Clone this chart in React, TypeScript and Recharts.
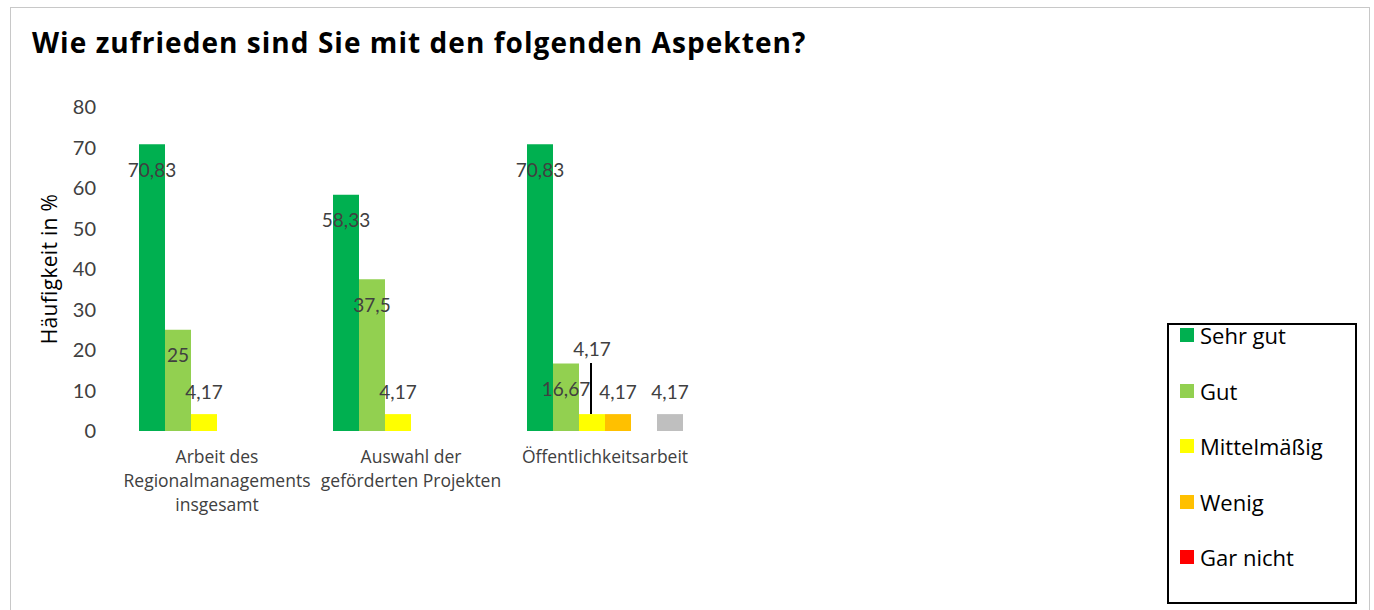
import { BarChart, Bar, XAxis, YAxis, LabelList } from 'recharts';

const categories = [
  'Arbeit des\nRegionalmanagements\ninsgesamt',
  'Auswahl der\ngeförderten Projekten',
  'Öffentlichkeitsarbeit',
];
const sehrGut = [70.83, 58.33, 70.83];
const gut = [25, 37.5, 16.67];
const mittelmaessig = [4.17, 4.17, 4.17];
const wenig = [null, null, 4.17];
const garNicht = [null, null, null];
const keineAngabe = [null, null, 4.17];
const yTicks = [0, 10, 20, 30, 40, 50, 60, 70, 80];

const series = [
  { key: 'sehrGut', name: 'Sehr gut', color: '#00B050', values: sehrGut, legend: true },
  { key: 'gut', name: 'Gut', color: '#92D050', values: gut, legend: true },
  { key: 'mittel', name: 'Mittelmäßig', color: '#FFFF00', values: mittelmaessig, legend: true },
  { key: 'wenig', name: 'Wenig', color: '#FFC000', values: wenig, legend: true },
  { key: 'garNicht', name: 'Gar nicht', color: '#FF0000', values: garNicht, legend: true },
  { key: 'keineAngabe', name: 'Keine Angabe', color: '#BFBFBF', values: keineAngabe, legend: false },
];

const data = categories.map((name, i) => {
  const row: Record<string, any> = { name };
  series.forEach((s) => {
    row[s.key] = s.values[i];
  });
  return row;
});

const FONT = 'Lato, "Open Sans", sans-serif';
const WIDE = '"Open Sans", Lato, sans-serif';

const fmt = (v: number) => String(v).replace('.', ',');

const makeLabel = (seriesKey: string) => (props: any) => {
  const { x, y, width, value, index } = props;
  if (value == null) return null;
  const cx = Number(x) + Number(width) / 2;
  const top = Number(y);
  // the yellow bar of the last group has its label pulled up with a leader line
  const leader = seriesKey === 'mittel' && index === 2;
  const ty = leader ? top - 66 : value > 10 ? top + 25 : top - 23;
  return (
    <g>
      {leader && <line x1={cx - 1} x2={cx - 1} y1={top - 51} y2={top} stroke="#000" strokeWidth={2} />}
      <text x={cx} y={ty} textAnchor="middle" dominantBaseline="central" fontSize={19} fontFamily={FONT} fill="#404040">
        {fmt(value)}
      </text>
    </g>
  );
};

const CategoryTick = (props: any) => {
  const { x, y, payload } = props;
  const lines = String(payload.value).split('\n');
  return (
    <text x={x} y={y} textAnchor="middle" fontSize={17.5} fontFamily={WIDE} fill="#404040">
      {lines.map((l, i) => (
        <tspan key={i} x={x} dy={i === 0 ? 32 : 24}>
          {l}
        </tspan>
      ))}
    </text>
  );
};

const YLabel = (props: any) => {
  const vb = props.viewBox || { x: 60, y: 107, height: 324 };
  const cx = vb.x - 11;
  const cy = vb.y + vb.height / 2;
  return (
    <text
      x={cx}
      y={cy}
      transform={`rotate(-90 ${cx} ${cy})`}
      textAnchor="middle"
      dominantBaseline="central"
      fontSize={21}
      letterSpacing={0.3}
      fontFamily={WIDE}
      fill="#000"
    >
      Häufigkeit in %
    </text>
  );
};

export default function App() {
  return (
    <div style={{ position: 'relative', width: 1374, height: 610, background: '#fff', overflow: 'hidden', fontFamily: FONT }}>
      <style>{`body{margin:0}`}</style>
      <div style={{ position: 'absolute', left: 10, top: 7, width: 1358, height: 620, border: '1px solid #c8c8c8' }} />
      <div
        style={{
          position: 'absolute',
          left: 32,
          top: 24,
          height: 36,
          lineHeight: '36px',
          fontSize: 28,
          fontWeight: 700,
          letterSpacing: 1.05,
          fontFamily: WIDE,
          color: '#000',
          whiteSpace: 'nowrap',
        }}
      >
        Wie zufrieden sind Sie mit den folgenden Aspekten?
      </div>
      <div style={{ position: 'absolute', left: 0, top: 0 }}>
        <BarChart
          width={1374}
          height={610}
          data={data}
          margin={{ top: 107, left: 60, right: 672, bottom: 149 }}
          barCategoryGap={19}
          barGap={0}
        >
          <XAxis dataKey="name" height={30} axisLine={false} tickLine={false} tickSize={0} tickMargin={0} interval={0} tick={<CategoryTick />} />
          <YAxis
            width={60}
            domain={[0, 80]}
            ticks={yTicks}
            axisLine={false}
            tickLine={false}
            tickSize={0}
            tickMargin={24}
            tick={{ fontSize: 20, fill: '#404040', fontFamily: FONT }}
            label={<YLabel />}
          />
          {series.map((s) => (
            <Bar key={s.key} dataKey={s.key} name={s.name} fill={s.color} isAnimationActive={false}>
              <LabelList dataKey={s.key} content={makeLabel(s.key)} />
            </Bar>
          ))}
        </BarChart>
      </div>
      <div
        style={{
          position: 'absolute',
          left: 1167,
          top: 323,
          width: 186,
          height: 277,
          border: '2px solid #000',
          background: '#fff',
        }}
      >
        {series
          .filter((s) => s.legend)
          .map((s, i) => (
            <div key={s.key} style={{ position: 'absolute', left: 11, top: -4 + i * 55.5, height: 28, display: 'flex', alignItems: 'center' }}>
              <span style={{ display: 'inline-block', width: 14, height: 14, background: s.color, marginRight: 6 }} />
              <span style={{ fontSize: 22, fontFamily: WIDE, color: '#000', lineHeight: '28px' }}>{s.name}</span>
            </div>
          ))}
      </div>
    </div>
  );
}
